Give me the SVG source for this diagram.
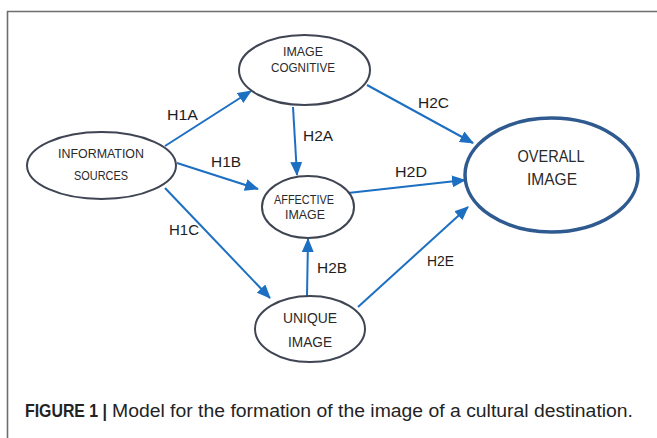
<svg xmlns="http://www.w3.org/2000/svg" width="657" height="438" viewBox="0 0 657 438">
  <style>
    .node { fill: #ffffff; stroke: #3f4553; stroke-width: 2; }
    .main { fill: #ffffff; stroke: #2f5a90; stroke-width: 3.5; }
    .lbl { font-family: "Liberation Sans", Arial, sans-serif; fill: #2a2a2a; text-anchor: middle; }
    .hyp { font-family: "Liberation Sans", Arial, sans-serif; fill: #1e1e1e; font-size: 15.5px; }
    .edge { stroke: #1c6fc1; stroke-width: 2; fill: none; marker-end: url(#arrow); }
    .frame { stroke: #6e6e6e; stroke-width: 1.6; fill: none; }
    .cap { font-family: "Liberation Sans", Arial, sans-serif; font-size: 17.5px; fill: #232323; }
  </style>
  <defs>
    <marker id="arrow" markerUnits="userSpaceOnUse" markerWidth="14" markerHeight="12" viewBox="0 0 14 12" refX="13" refY="6" orient="auto">
      <path d="M0,0 L14,6 L0,12 Z" fill="#1c6fc1"/>
    </marker>
  </defs>

  <rect width="657" height="438" fill="#ffffff"/>

  <!-- figure frame: top rule and left rule -->
  <path class="frame" d="M7.5,438 L7.5,11.5 L657,11.5"/>

  <!-- hypothesis arrows -->
  <g id="connectors">
    <line class="edge" x1="165" y1="146" x2="251" y2="91"/>
    <line class="edge" x1="177" y1="163" x2="258" y2="189"/>
    <line class="edge" x1="165" y1="188" x2="270" y2="298"/>
    <line class="edge" x1="293" y1="107" x2="297" y2="175"/>
    <line class="edge" x1="307" y1="296" x2="308" y2="239"/>
    <line class="edge" x1="367" y1="85" x2="473" y2="143"/>
    <line class="edge" x1="348" y1="193" x2="465" y2="180"/>
    <line class="edge" x1="358" y1="307" x2="468" y2="207"/>
  </g>

  <g id="labels">
    <text class="hyp" x="167" y="120" textLength="31" lengthAdjust="spacingAndGlyphs">H1A</text>
    <text class="hyp" x="211" y="167" textLength="30" lengthAdjust="spacingAndGlyphs">H1B</text>
    <text class="hyp" x="169" y="235" textLength="30" lengthAdjust="spacingAndGlyphs">H1C</text>
    <text class="hyp" x="303" y="141" textLength="30" lengthAdjust="spacingAndGlyphs">H2A</text>
    <text class="hyp" x="317" y="273" textLength="30" lengthAdjust="spacingAndGlyphs">H2B</text>
    <text class="hyp" x="418" y="108" textLength="31" lengthAdjust="spacingAndGlyphs">H2C</text>
    <text class="hyp" x="395" y="177" textLength="32" lengthAdjust="spacingAndGlyphs">H2D</text>
    <text class="hyp" x="427" y="266" textLength="27" lengthAdjust="spacingAndGlyphs">H2E</text>
  </g>

  <g id="image-cognitive">
    <ellipse class="node" cx="304.5" cy="70" rx="65.5" ry="35"/>
    <text class="lbl" x="303" y="56" font-size="13.5" textLength="40" lengthAdjust="spacingAndGlyphs">IMAGE</text>
    <text class="lbl" x="303" y="72" font-size="13.5" textLength="64" lengthAdjust="spacingAndGlyphs">COGNITIVE</text>
  </g>

  <g id="information-sources">
    <ellipse class="node" cx="101.5" cy="165.5" rx="74.5" ry="33.5"/>
    <text class="lbl" x="101" y="158" font-size="13" textLength="86" lengthAdjust="spacingAndGlyphs">INFORMATION</text>
    <text class="lbl" x="101" y="180" font-size="13" textLength="54" lengthAdjust="spacingAndGlyphs">SOURCES</text>
  </g>

  <g id="affective-image">
    <ellipse class="node" cx="308" cy="207" rx="46" ry="31"/>
    <text class="lbl" x="304" y="204" font-size="13" textLength="60" lengthAdjust="spacingAndGlyphs">AFFECTIVE</text>
    <text class="lbl" x="305" y="219" font-size="13" textLength="40" lengthAdjust="spacingAndGlyphs">IMAGE</text>
  </g>

  <g id="unique-image">
    <ellipse class="node" cx="310" cy="329" rx="55" ry="33"/>
    <text class="lbl" x="310" y="323" font-size="15" textLength="54" lengthAdjust="spacingAndGlyphs">UNIQUE</text>
    <text class="lbl" x="310" y="347" font-size="15" textLength="44" lengthAdjust="spacingAndGlyphs">IMAGE</text>
  </g>

  <g id="overall-image">
    <ellipse class="main" cx="551.5" cy="175" rx="86.5" ry="57"/>
    <text class="lbl" x="551" y="162" font-size="16" textLength="67" lengthAdjust="spacingAndGlyphs">OVERALL</text>
    <text class="lbl" x="552" y="185" font-size="16" textLength="50" lengthAdjust="spacingAndGlyphs">IMAGE</text>
  </g>

  <!-- caption -->
  <g id="caption">
    <text class="cap" x="25" y="417" font-weight="bold" textLength="82" lengthAdjust="spacingAndGlyphs">FIGURE 1 |</text>
    <text class="cap" x="112" y="417" textLength="521" lengthAdjust="spacingAndGlyphs">Model for the formation of the image of a cultural destination.</text>
  </g>
</svg>
